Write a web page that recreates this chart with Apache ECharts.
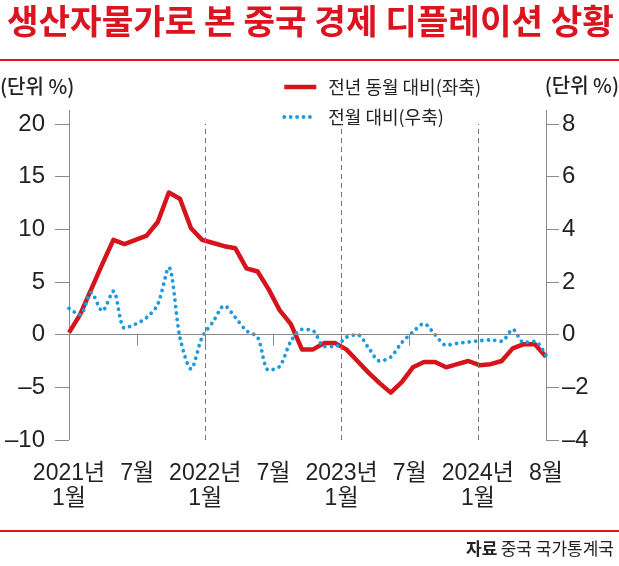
<!DOCTYPE html>
<html>
<head>
<meta charset="utf-8">
<script src="https://cdn.jsdelivr.net/npm/echarts@6/dist/echarts.min.js"></script>
<style>html,body{margin:0;padding:0;background:#fff}#c{width:619px;height:566px}</style>
</head>
<body>
<div id="c"></div>
<script>
// ---- data ----
const months = [
  '2021-01','2021-02','2021-03','2021-04','2021-05','2021-06','2021-07','2021-08','2021-09','2021-10','2021-11','2021-12',
  '2022-01','2022-02','2022-03','2022-04','2022-05','2022-06','2022-07','2022-08','2022-09','2022-10','2022-11','2022-12',
  '2023-01','2023-02','2023-03','2023-04','2023-05','2023-06','2023-07','2023-08','2023-09','2023-10','2023-11','2023-12',
  '2024-01','2024-02','2024-03','2024-04','2024-05','2024-06','2024-07','2024-08'
];
// 전년 동월 대비 (left axis, %)
const yoy = [
  0.2, 1.9, 4.3, 6.7, 9.0, 8.6, 9.0, 9.4, 10.7, 13.5, 12.9, 10.1,
  9.0, 8.7, 8.4, 8.2, 6.3, 6.0, 4.3, 2.3, 1.0, -1.4, -1.4, -0.8,
  -0.8, -1.4, -2.5, -3.6, -4.6, -5.5, -4.5, -3.1, -2.6, -2.6, -3.1, -2.8,
  -2.5, -2.9, -2.8, -2.5, -1.3, -0.9, -0.9, -2.1
];
// 전월 대비 (right axis, %)
const mom = [
  1.0, 0.75, 1.6, 0.9, 1.65, 0.25, 0.4, 0.65, 1.15, 2.55, -0.1, -1.3,
  -0.1, 0.5, 1.1, 0.65, 0.15, -0.1, -1.35, -1.2, -0.25, 0.2, 0.15, -0.45,
  -0.45, -0.1, 0.0, -0.5, -1.0, -0.85, -0.3, 0.1, 0.42, 0.0, -0.4, -0.33,
  -0.28, -0.23, -0.2, -0.25, 0.2, -0.3, -0.25, -0.8
];
const tickPositions = [0, 6, 12, 18, 24, 30, 36, 42];
const tickLabels = ['2021년\n1월', '7월', '2022년\n1월', '7월', '2023년\n1월', '7월', '2024년\n1월', '8월'];
const yearLines = [12, 24, 36];
const seriesNames = ['전년 동월 대비(좌축)', '전월 대비(우축)'];
const titleText = '생산자물가로 본 중국 경제 디플레이션 상황';
const unitText = '(단위 %)';

// ---- chart ----
const NUM = "'Liberation Sans Narrow','Liberation Sans','Noto Sans CJK KR',sans-serif";
const KR = "'Noto Sans CJK KR',sans-serif";
const AX = '#8a8a8a';
const RED = '#d5141c';
const BLUE = '#1a9be0';
const minus = v => String(v).replace('-', '–');

const chart = echarts.init(document.getElementById('c'), null, {renderer: 'canvas'});
chart.setOption({
  animation: false,
  backgroundColor: '#fff',
  grid: {left: 69, right: 73, top: 124, bottom: 126, containLabel: false},
  legend: {
    data: seriesNames,
    orient: 'vertical',
    left: 277, top: 73,
    itemWidth: 32, itemHeight: 14, itemGap: 12,
    itemStyle: {opacity: 0},
    lineStyle: {width: 'inherit'},
    textStyle: {fontSize: 18, color: '#222', fontFamily: KR, padding: [0, 0, 0, 7]},
    selectedMode: false
  },
  xAxis: [
    {type: 'category', data: months, boundaryGap: false, show: false},
    {
      type: 'value', min: 0, max: 42, interval: 6, position: 'bottom',
      axisLine: {show: true, lineStyle: {color: AX, width: 1}},
      axisTick: {show: true, length: 11, lineStyle: {color: AX}},
      splitLine: {show: false},
      axisLabel: {
        fontSize: 23, lineHeight: 25, fontFamily: NUM, color: '#222', margin: 21,
        formatter: v => { const i = tickPositions.indexOf(v); return i >= 0 ? tickLabels[i] : ''; }
      }
    }
  ],
  yAxis: [
    {
      type: 'value', min: -10, max: 20, interval: 5, position: 'left',
      axisLine: {show: false},
      axisTick: {show: true, length: 14, lineStyle: {color: AX}},
      splitLine: {show: false},
      axisLabel: {fontSize: 24, fontFamily: NUM, color: '#222', margin: 24, formatter: minus}
    },
    {
      type: 'value', min: -4, max: 8, interval: 2, position: 'right',
      axisLine: {show: false},
      axisTick: {show: true, length: 13, lineStyle: {color: AX}},
      splitLine: {show: false},
      axisLabel: {fontSize: 24, fontFamily: NUM, color: '#222', margin: 16, formatter: minus}
    }
  ],
  series: [
    {
      type: 'line', name: 'guides', xAxisIndex: 1, yAxisIndex: 0, data: [], silent: true, z: 1,
      markLine: {
        silent: true, symbol: 'none', animation: false,
        label: {show: false},
        data: yearLines.map(p => ({xAxis: p, lineStyle: {color: '#777', width: 1, type: [5, 4]}}))
          .concat([{yAxis: 0, lineStyle: {color: AX, width: 1, type: 'solid'}}])
      }
    },
    {
      type: 'line', name: seriesNames[0], xAxisIndex: 0, yAxisIndex: 0, data: yoy,
      symbol: 'none', z: 3,
      itemStyle: {color: RED},
      lineStyle: {color: RED, width: 4.5, join: 'round'}
    },
    {
      type: 'line', name: seriesNames[1], xAxisIndex: 0, yAxisIndex: 1, data: mom,
      symbol: 'none', smooth: 0.3, z: 4,
      itemStyle: {color: BLUE},
      lineStyle: {color: BLUE, width: 3.8, type: [0.01, 6.4], cap: 'round'}
    }
  ],
  graphic: [
    {type: 'text', x: 7, y: 21, z: 10, style: {text: titleText, fill: '#dc1420', font: "bold 34.3px 'Noto Sans CJK KR'", align: 'left', verticalAlign: 'middle', textAlign: 'left', textVerticalAlign: 'middle'}},
    {type: 'rect', shape: {x: 0, y: 59, width: 619, height: 2}, style: {fill: '#e0141e'}},
    {type: 'rect', shape: {x: 0, y: 530, width: 619, height: 2}, style: {fill: '#e0141e'}},
    {type: 'text', x: 0, y: 86, style: {text: unitText, fill: '#222', font: "500 20px 'Noto Sans CJK KR'", align: 'left', verticalAlign: 'middle', textAlign: 'left', textVerticalAlign: 'middle'}},
    {type: 'text', x: 619, y: 85, style: {text: unitText, fill: '#222', font: "500 20px 'Noto Sans CJK KR'", align: 'right', verticalAlign: 'middle', textAlign: 'right', textVerticalAlign: 'middle'}},
    {type: 'line', shape: {x1: 69.5, y1: 110, x2: 69.5, y2: 440}, style: {stroke: AX, lineWidth: 1}},
    {type: 'line', shape: {x1: 546.5, y1: 110, x2: 546.5, y2: 440}, style: {stroke: AX, lineWidth: 1}},
    {type: 'text', x: 614, y: 549, style: {
      text: '{b|자료} {r|중국 국가통계국}', align: 'right', verticalAlign: 'middle', textAlign: 'right', textVerticalAlign: 'middle',
      rich: {b: {fontSize: 17, fontWeight: 'bold', fontFamily: KR, fill: '#222', color: '#222'}, r: {fontSize: 17, fontFamily: KR, fill: '#222', color: '#222'}}
    }}
  ]
});
</script>
</body>
</html>
